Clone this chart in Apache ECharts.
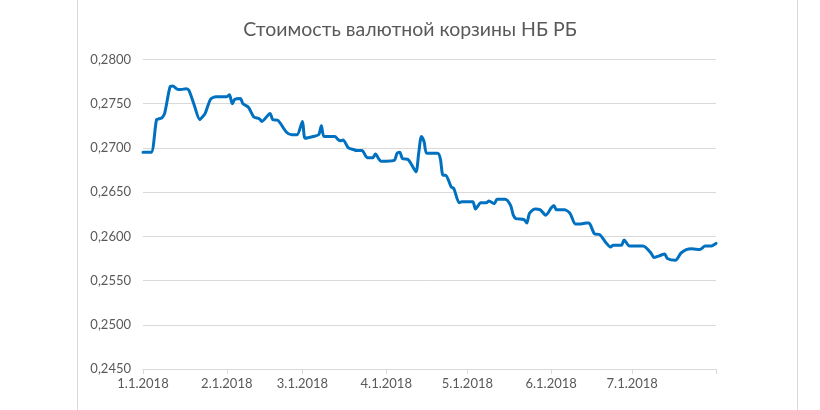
<!DOCTYPE html>
<html>
<head>
<meta charset="utf-8">
<script src="https://cdn.jsdelivr.net/npm/echarts@6/dist/echarts.min.js"></script>
<style>html,body{margin:0;padding:0;background:#fff;}#c{width:820px;height:410px;}</style>
</head>
<body>
<div id="c"></div>
<script>
var titleText = 'Стоимость валютной корзины НБ РБ';
var dates = [
 '2018-01-01','2018-01-04','2018-01-06','2018-01-07','2018-01-08','2018-01-09','2018-01-11','2018-01-12','2018-01-14','2018-01-15',
 '2018-01-17','2018-01-18','2018-01-20','2018-01-22','2018-01-23','2018-01-24','2018-01-26','2018-01-28','2018-02-01','2018-02-02',
 '2018-02-03','2018-02-04','2018-02-06','2018-02-07','2018-02-09','2018-02-11','2018-02-13','2018-02-14','2018-02-17','2018-02-18',
 '2018-02-20','2018-02-23','2018-02-25','2018-02-27','2018-03-01','2018-03-02','2018-03-05','2018-03-07','2018-03-08','2018-03-09',
 '2018-03-13','2018-03-14','2018-03-15','2018-03-16','2018-03-18','2018-03-20','2018-03-21','2018-03-23','2018-03-25','2018-03-27',
 '2018-03-28','2018-03-30','2018-04-01','2018-04-04','2018-04-05','2018-04-06','2018-04-07','2018-04-09','2018-04-10','2018-04-12',
 '2018-04-13','2018-04-14','2018-04-15','2018-04-16','2018-04-20','2018-04-21','2018-04-22','2018-04-23','2018-04-25','2018-04-26',
 '2018-04-28','2018-04-29','2018-05-03','2018-05-04','2018-05-06','2018-05-08','2018-05-09','2018-05-11','2018-05-12','2018-05-15',
 '2018-05-17','2018-05-18','2018-05-19','2018-05-22','2018-05-23','2018-05-24','2018-05-26','2018-05-28','2018-05-30','2018-06-01',
 '2018-06-02','2018-06-03','2018-06-06','2018-06-08','2018-06-10','2018-06-12','2018-06-14','2018-06-15','2018-06-17','2018-06-19',
 '2018-06-21','2018-06-23','2018-06-24','2018-06-27','2018-06-28','2018-06-30','2018-07-05','2018-07-08','2018-07-09','2018-07-11',
 '2018-07-13','2018-07-14','2018-07-17','2018-07-19','2018-07-21','2018-07-23','2018-07-26','2018-07-28','2018-07-30','2018-08-01'
];
var values = [
 0.2695,0.2695,0.2732,0.2733,0.2734,0.2739,0.2769,0.2770,0.2766,0.2766,
 0.2767,0.2765,0.2748,0.2732,0.2735,0.2739,0.2755,0.2758,0.2758,0.2760,
 0.2750,0.2755,0.2756,0.2750,0.2746,0.2735,0.2733,0.2730,0.2739,0.2732,
 0.2731,0.2718,0.2715,0.2715,0.2730,0.2711,0.2713,0.2715,0.2725,0.2713,
 0.2713,0.2710,0.2708,0.2709,0.2700,0.2698,0.2697,0.2697,0.2689,0.2689,
 0.2693,0.2685,0.2685,0.2686,0.2694,0.2695,0.2688,0.2687,0.2683,0.2673,
 0.2694,0.2713,0.2707,0.2694,0.2694,0.2688,0.2669,0.2669,0.2656,0.2654,
 0.2638,0.2639,0.2639,0.2631,0.2638,0.2638,0.2640,0.2637,0.2642,0.2642,
 0.2635,0.2624,0.2620,0.2619,0.2615,0.2626,0.2631,0.2630,0.2624,0.2632,
 0.2635,0.2630,0.2630,0.2626,0.2614,0.2614,0.2615,0.2615,0.2603,0.2602,
 0.2594,0.2588,0.2590,0.2590,0.2596,0.2589,0.2589,0.2581,0.2576,0.2578,
 0.2580,0.2575,0.2573,0.2581,0.2585,0.2586,0.2585,0.2589,0.2589,0.2592
];
var monthTicks = ['2018-01-01','2018-02-01','2018-03-01','2018-04-01','2018-05-01','2018-06-01','2018-07-01'];
var monthLabels = ['1.1.2018','2.1.2018','3.1.2018','4.1.2018','5.1.2018','6.1.2018','7.1.2018'];
var axisStart = '2018-01-01', axisEnd = '2018-08-01';
var yMin = 0.245, yMax = 0.28, yStep = 0.005;

function ts(s){ var p = s.split('-'); return Date.UTC(+p[0], +p[1]-1, +p[2]); }
var labelMap = {};
monthTicks.forEach(function(m,i){ labelMap[ts(m)] = monthLabels[i]; });
var tickVals = monthTicks.map(ts).concat([ts(axisEnd)]);

var chart = echarts.init(document.getElementById('c'), null, {renderer:'canvas'});
chart.setOption({
  animation: false,
  backgroundColor: '#ffffff',
  textStyle: {fontFamily: 'Lato'},
  title: {
    text: titleText, left: 'center', top: 15,
    textStyle: {fontFamily: 'Lato', fontSize: 19.5, fontWeight: 'normal', color: '#595959'}
  },
  graphic: [
    {type:'line', shape:{x1:77.5,y1:0,x2:77.5,y2:410}, style:{stroke:'#d9d9d9', lineWidth:1}},
    {type:'line', shape:{x1:797.5,y1:0,x2:797.5,y2:410}, style:{stroke:'#d9d9d9', lineWidth:1}}
  ],
  grid: {left: 143, right: 104, top: 59.5, bottom: 41, containLabel: false},
  xAxis: {
    type: 'value',
    min: ts(axisStart), max: ts(axisEnd),
    axisLine: {lineStyle: {color: '#d9d9d9', width: 1}},
    axisTick: {show: true, length: 5, lineStyle: {color: '#d9d9d9'}, customValues: tickVals},
    axisLabel: {
      customValues: monthTicks.map(ts),
      formatter: function(v){ return labelMap[v] || ''; },
      color: '#595959', fontSize: 13, fontFamily: 'Lato', margin: 8
    },
    splitLine: {show: false}
  },
  yAxis: {
    type: 'value', min: yMin, max: yMax, interval: yStep,
    axisLine: {show: false}, axisTick: {show: false},
    axisLabel: {
      formatter: function(v){ return v.toFixed(4).replace('.', ','); },
      color: '#595959', fontSize: 13, fontFamily: 'Lato', margin: 12
    },
    splitLine: {lineStyle: {color: '#d9d9d9', width: 1}}
  },
  series: [{
    type: 'line',
    data: dates.map(function(d,i){ return [ts(d), values[i]]; }),
    showSymbol: false,
    smooth: 0.25,
    lineStyle: {color: '#0070C0', width: 3, cap: 'round', join: 'round'},
    itemStyle: {color: '#0070C0'}
  }]
});
</script>
</body>
</html>
